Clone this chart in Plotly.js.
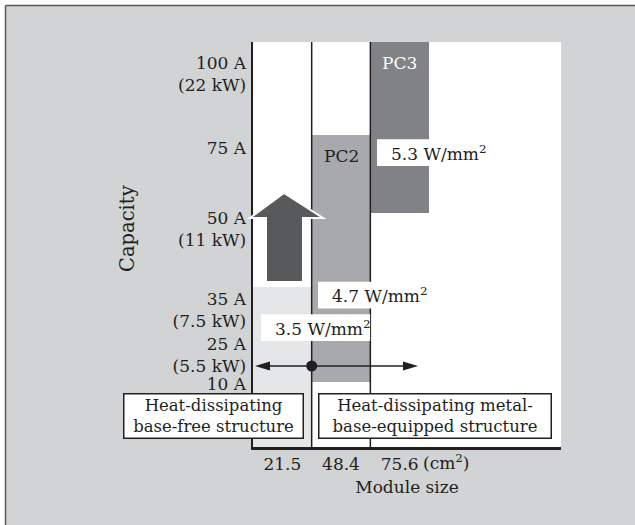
<!DOCTYPE html>
<html><head><meta charset="utf-8">
<script src="https://cdn.plot.ly/plotly-3.0.1.min.js"></script>
<style>html,body{margin:0;padding:0;background:#fff}</style>
</head><body><div id="chart" style="width:635px;height:525px"></div>
<script>
// ---- data ----
const moduleSizes = ["21.5", "48.4", "75.6"];          // cm2, one column per size
const blockNames = ["", "PC2", "PC3"];
const blockBottom = [0, 16, 57.8];                     // relative capacity scale (0-100)
const blockTop = [39.5, 77, 100];
const capacityTickPos = [15.6, 22.8, 33.8, 53.8, 73.8, 92.1];
const capacityTickText = ["10 A", "25 A<br>(5.5 kW)", "35 A<br>(7.5 kW)", "50 A<br>(11 kW)", "75 A", "100 A<br>(22 kW)"];
const densityLabels = ["3.5 W/mm<sup>2</sup>", "4.7 W/mm<sup>2</sup>", "5.3 W/mm<sup>2</sup>"];
const structureLabels = ["Heat-dissipating<br>base-free structure", "Heat-dissipating metal-<br>base-equipped structure"];

// ---- layout helpers (pixel -> paper) ----
const L = 253, R = 561, T = 42, B = 447;
const W = 635, H = 525;
const px = v => (v - L) / (R - L);
const py = v => (B - v) / (B - T);
const FONT = "DejaVu Serif";
const INK = "#231f20";
const FS = 17;

const barColors = ["#e5e6e7", "#a7a9ac", "#808285"];
const colCenters = moduleSizes.map((_, i) => i + 0.5);

const traces = [{
  type: "bar",
  x: colCenters,
  y: blockTop.map((t, i) => t - blockBottom[i]),
  base: blockBottom,
  width: 1,
  marker: {color: barColors, line: {width: 0}},
  hoverinfo: "skip",
  showlegend: false
}];

// density label boxes: left edge in column units, vertical centre on capacity scale
const densityPos = [[0.136, 29.5], [1.108, 37.5], [2.113, 72.7]];
const boxW = 1.86, boxH = 3.3;

const shapes = [];
// white outer strips and frame
shapes.push({type: "rect", xref: "paper", yref: "paper", x0: px(0), x1: px(W + 5), y0: py(0), y1: py(5), fillcolor: "#ffffff", line: {width: 0}, layer: "below"});
shapes.push({type: "rect", xref: "paper", yref: "paper", x0: px(0), x1: px(5), y0: py(0), y1: py(H + 5), fillcolor: "#ffffff", line: {width: 0}, layer: "below"});
shapes.push({type: "line", xref: "paper", yref: "paper", x0: px(5.5), x1: px(W + 5), y0: py(5.5), y1: py(5.5), line: {color: "#58595b", width: 1.5}});
shapes.push({type: "line", xref: "paper", yref: "paper", x0: px(5.5), x1: px(5.5), y0: py(5.5), y1: py(H + 5), line: {color: "#58595b", width: 1.5}});
// column separators
[1, 2].forEach(xv => shapes.push({type: "line", xref: "x", yref: "paper", x0: xv, x1: xv, y0: 0, y1: 1, line: {color: INK, width: 1.5}, layer: "above"}));
// white density boxes
densityPos.forEach(p => shapes.push({type: "rect", xref: "x", yref: "y", x0: p[0], x1: p[0] + boxW, y0: p[1] - boxH, y1: p[1] + boxH, fillcolor: "#ffffff", line: {width: 0}, layer: "above"}));
// big up arrow
const up = [[284, 193], [323, 218], [303, 218], [303, 282], [266, 282], [266, 218], [250, 218]];
shapes.push({type: "path", xref: "paper", yref: "paper",
  path: "M" + up.map(p => px(p[0]) + "," + py(p[1])).join("L") + "Z",
  fillcolor: "#58595b", line: {color: "#ffffff", width: 2}, layer: "above"});
// horizontal double arrow
const ay = 366;
shapes.push({type: "line", xref: "paper", yref: "paper", x0: px(262), x1: px(411), y0: py(ay), y1: py(ay), line: {color: INK, width: 1.5}, layer: "above"});
shapes.push({type: "path", xref: "paper", yref: "paper",
  path: `M${px(255)},${py(ay)}L${px(270)},${py(ay - 4.5)}L${px(270)},${py(ay + 4.5)}Z`, fillcolor: INK, line: {width: 0}, layer: "above"});
shapes.push({type: "path", xref: "paper", yref: "paper",
  path: `M${px(418)},${py(ay)}L${px(403)},${py(ay - 4.5)}L${px(403)},${py(ay + 4.5)}Z`, fillcolor: INK, line: {width: 0}, layer: "above"});

traces.push({type: "scatter", mode: "markers", x: [1], y: [(B - ay) / ((B - T) / 100)],
  marker: {color: INK, size: 11}, cliponaxis: false, hoverinfo: "skip", showlegend: false});

const annotations = [];
// block names
blockNames.forEach((n, i) => {
  if (!n) return;
  annotations.push({xref: "x", yref: "y", x: colCenters[i], y: blockTop[i], yanchor: "top", yshift: -9,
    text: n, showarrow: false, font: {family: FONT, size: FS, color: i === 2 ? "#ffffff" : INK}});
});
densityLabels.forEach((t, i) => annotations.push({xref: "x", yref: "y", x: densityPos[i][0], y: densityPos[i][1],
  xanchor: "left", yanchor: "middle", xshift: 12, text: t, showarrow: false, font: {family: FONT, size: FS, color: INK}}));
// structure boxes
const sPos = [[213.5, 416, 178], [435, 416, 231]];
structureLabels.forEach((t, i) => annotations.push({xref: "paper", yref: "paper", x: px(sPos[i][0]), y: py(sPos[i][1]),
  xanchor: "center", yanchor: "middle", text: t, showarrow: false, width: sPos[i][2], height: 43,
  bgcolor: "#ffffff", bordercolor: INK, borderwidth: 1.5, borderpad: 0,
  font: {family: FONT, size: 16.5, color: INK}}));
// unit after last tick
annotations.push({xref: "paper", yref: "paper", x: px(421), y: py(462), xanchor: "left", yanchor: "middle",
  text: "(cm<sup>2</sup>)", showarrow: false, font: {family: FONT, size: FS, color: INK}});
// y title
annotations.push({xref: "paper", yref: "paper", x: px(127), y: py(228), xanchor: "center", yanchor: "middle",
  text: "Capacity", textangle: -90, showarrow: false, font: {family: FONT, size: 19.5, color: INK}});

const layout = {
  width: W, height: H,
  margin: {l: L, r: W - R, t: T, b: H - B, pad: 0},
  paper_bgcolor: "#d1d3d4",
  plot_bgcolor: "#ffffff",
  font: {family: FONT, size: FS, color: INK},
  showlegend: false,
  bargap: 0,
  xaxis: {range: [0, (R - L) / 58.67], tickvals: colCenters, ticktext: moduleSizes, ticks: "",
    showline: true, linewidth: 2.5, linecolor: INK, showgrid: false, zeroline: false, fixedrange: true,
    tickfont: {family: FONT, size: FS, color: INK},
    title: {text: "Module size", standoff: 8, font: {family: FONT, size: FS, color: INK}}, automargin: false},
  yaxis: {range: [0, 100], tickvals: capacityTickPos, ticktext: capacityTickText, ticks: "",
    showline: true, linewidth: 2.5, linecolor: INK, showgrid: false, zeroline: false, fixedrange: true,
    tickfont: {family: FONT, size: FS, color: INK},
    ticklabelstandoff: 1, automargin: false},
  shapes: shapes,
  annotations: annotations
};

Plotly.newPlot("chart", traces, layout, {displayModeBar: false, staticPlot: true});
</script>
</body></html>
